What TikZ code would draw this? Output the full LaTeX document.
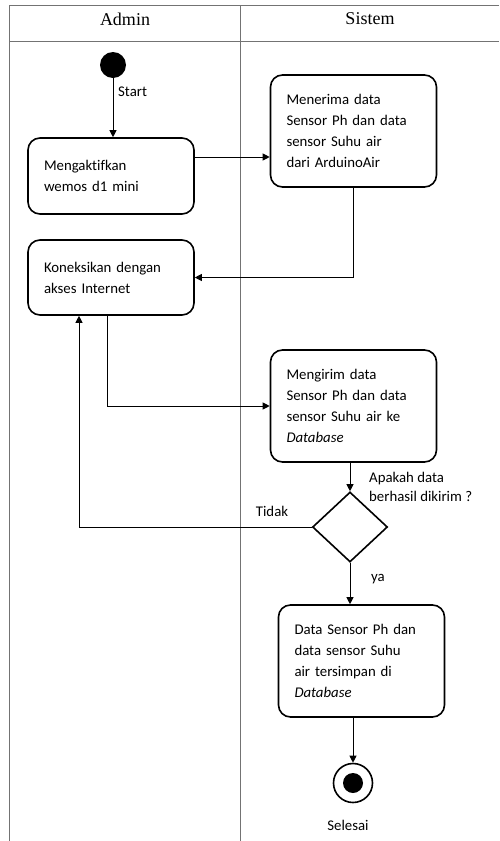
\documentclass[tikz,border=0pt]{standalone}
\usepackage{fontspec}
\setmainfont[Ligatures=CommonOff]{Carlito}
\newfontfamily\headfont{Liberation Serif}
\usetikzlibrary{positioning,arrows.meta,shapes.geometric}
\definecolor{laneline}{gray}{0.45}

\begin{document}
\begin{tikzpicture}[x=1pt, y=-1pt,
    act/.style={draw, line width=1.6pt, rounded corners=12pt, align=left,
                text width=134pt, inner xsep=16pt, minimum width=166pt,
                font=\fontsize{14.8}{21}\selectfont},
    decide/.style={draw, diamond, line width=1.6pt, minimum width=75pt,
                   minimum height=70pt, inner sep=0pt},
    startdot/.style={circle, fill=black, minimum size=26pt, inner sep=0pt},
    endring/.style={circle, draw, line width=1.6pt, minimum size=39pt, inner sep=0pt},
    enddot/.style={circle, fill=black, minimum size=20pt, inner sep=0pt},
    lbl/.style={font=\fontsize{14.8}{19}\selectfont, inner sep=0pt},
    lane/.style={draw=laneline, line width=1pt},
    head/.style={font=\headfont\fontsize{18}{20}\selectfont},
    flow/.style={-{Triangle[length=7pt, width=7pt]}, line width=1pt}
  ]
    \useasboundingbox (0,0) rectangle (499,841);

    % swimlanes
    \draw[lane] (499,5) -- (9,5) -- (9,841);
    \draw[lane] (9,41) -- (499,41);
    \draw[lane] (240,5) -- (240,841);
    \node[head] (admin)  at (125,19) {Admin};
    \node[head] (sistem) at (370,19) {Sistem};

    % activities
    \node[startdot] (start) at (113,65) {};
    \node[act, minimum height=76pt]  (aktif)   at (111,176)   {Mengaktifkan\\wemos d1 mini};
    \node[act, minimum height=112pt] (terima)  at (353.5,131) {Menerima data\\Sensor Ph dan data\\sensor Suhu air\\dari ArduinoAir};
    \node[act, minimum height=75pt]  (koneksi) at (111,277.5) {Koneksikan dengan\\akses Internet};
    \node[act, minimum height=112pt] (kirim)   at (353.5,406) {Mengirim data\\Sensor Ph dan data\\sensor Suhu air ke\\\textit{Database}};
    \node[decide] (cek) at (350,527) {};
    \node[act, minimum height=112pt] (simpan)  at (361.5,661) {Data Sensor Ph dan\\data sensor Suhu\\air tersimpan di\\\textit{Database}};
    \node[endring] (selesai) at (353,783) {};
    \node[enddot] (selesaidot) at (selesai) {};

    % labels
    \node[lbl, anchor=west] (lstart) at (118,92) {Start};
    \node[lbl, anchor=west, align=left] (ltanya) at (369,487) {Apakah data\\berhasil dikirim ?};
    \node[lbl] (ltidak) at (272,511) {Tidak};
    \node[lbl] (lya) at (378,579) {ya};
    \node[lbl] (lselesai) at (348,825) {Selesai};

    % flows
    \draw[flow] (start) -- (start |- aktif.north);
    \draw[flow] ([yshift=19pt]aktif.east) -- ([yshift=19pt]aktif.east -| terima.west);
    \draw[flow] (terima.south) |- (koneksi.east);
    \draw[flow] ([xshift=-4pt]koneksi.south) |- (kirim.west);
    \draw[flow] (kirim.south -| cek.north) -- (cek.north);
    \draw[flow] (cek.west) -| ([xshift=-32pt]koneksi.south);
    \draw[flow] (cek.south) -- (cek.south |- simpan.north);
    \draw[flow] (simpan.south -| selesai.north) -- (selesai.north);
  \end{tikzpicture}
\end{document}
